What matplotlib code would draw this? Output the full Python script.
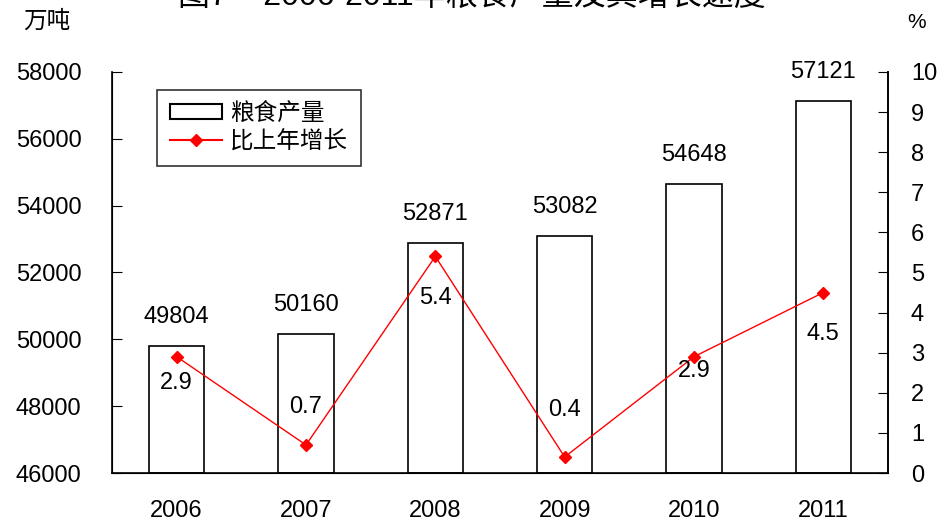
import matplotlib.pyplot as plt
from matplotlib.patches import Patch
from matplotlib.lines import Line2D

plt.rcParams['font.family'] = ['Liberation Sans', 'Noto Sans CJK SC', 'DejaVu Sans']

years = ['2006', '2007', '2008', '2009', '2010', '2011']
output = [49804, 50160, 52871, 53082, 54648, 57121]
growth = [2.9, 0.7, 5.4, 0.4, 2.9, 4.5]
# vertical offset (points) of each growth label centre from its marker
growth_offset = [-19, 27, -30, 34, -10, -30]

fs = 17

fig = plt.figure(figsize=(9.38, 5.25), dpi=100)
ax = fig.add_axes([0.1194, 0.099, 0.8273, 0.764])
x = range(len(years))

ax.bar(x, [v - 46000 for v in output], bottom=46000, width=0.43,
       facecolor='white', edgecolor='black', linewidth=1.2)
ax.set_ylim(46000, 58000)
ax.set_xlim(-0.5, 5.5)
ax.set_yticks(range(46000, 58001, 2000))
ax.set_xticks(list(x))
ax.set_xticklabels(years)
ax.tick_params(axis='x', length=0, labelsize=fs, pad=19.5)
ax.tick_params(axis='y', direction='in', length=7, labelsize=fs, pad=22)
ax.spines['top'].set_visible(False)
for s in ax.spines.values():
    s.set_linewidth(1.2)

for i, v in enumerate(output):
    ax.annotate(str(v), (i, v), xytext=(0, 13), textcoords='offset points',
                ha='center', va='bottom', fontsize=fs)

ax2 = ax.twinx()
ax2.plot(list(x), growth, color='red', linewidth=1, marker='D', markersize=6)
ax2.set_ylim(0, 10)
ax2.set_yticks(range(0, 11))
ax2.tick_params(axis='y', direction='in', length=7, labelsize=fs, pad=16.5)
ax2.spines['top'].set_visible(False)
ax2.spines['right'].set_linewidth(1.2)
for i, g in enumerate(growth):
    ax2.annotate(f'{g:.1f}', (i, g), xytext=(0, growth_offset[i]),
                 textcoords='offset points', ha='center', va='center', fontsize=fs)

handles = [Patch(facecolor='white', edgecolor='black', linewidth=1.5),
           Line2D([0], [0], color='red', marker='D', markersize=6)]
leg = ax.legend(handles, ['粮食产量', '比上年增长'], loc='upper left',
                bbox_to_anchor=(0.058, 0.955), fontsize=fs, frameon=True,
                fancybox=False, edgecolor='black', handlelength=2.2,
                handleheight=0.6, handletextpad=0.35,
                borderpad=0.55, labelspacing=0.25, borderaxespad=0)
leg.get_frame().set_linewidth(1.2)

fig.text(0.05, 0.958, '万吨', fontsize=fs, ha='center', va='center')
fig.text(0.977, 0.958, '%', fontsize=15, ha='center', va='center')
fig.text(0.503, 1.007, '图7    2006-2011年粮食产量及其增长速度', fontsize=23,
         ha='center', va='center')

fig.savefig('out.png', dpi=100)
